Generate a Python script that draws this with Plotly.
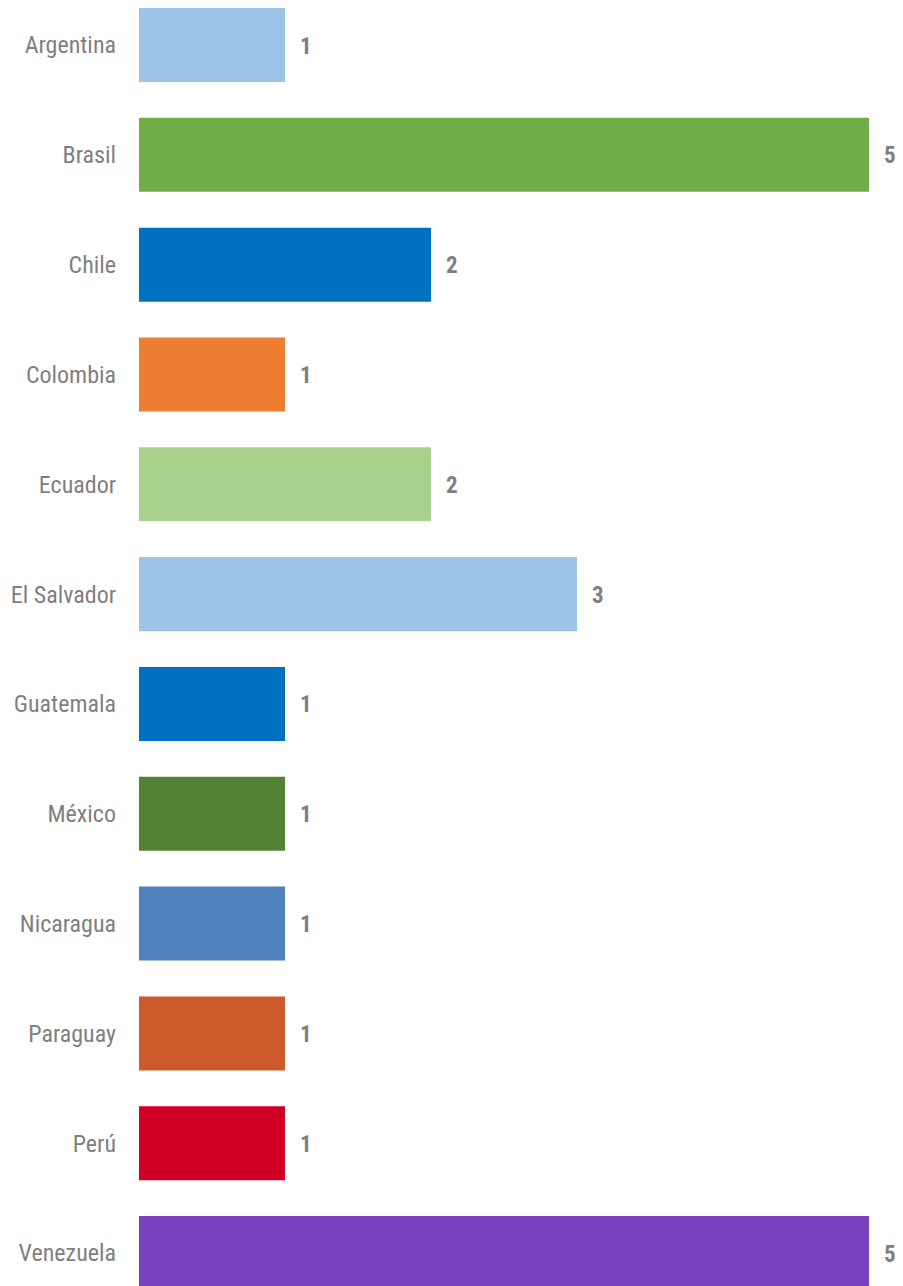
import plotly.graph_objects as go

paises = ['Argentina', 'Brasil', 'Chile', 'Colombia', 'Ecuador', 'El Salvador',
          'Guatemala', 'México', 'Nicaragua', 'Paraguay', 'Perú', 'Venezuela']
valores = [1, 5, 2, 1, 2, 3, 1, 1, 1, 1, 1, 5]
colores = ['#9DC3E6', '#70AD47', '#0070C0', '#ED7D31', '#A9D18E', '#9DC3E6',
           '#0070C0', '#548235', '#4F81BD', '#CC5A2B', '#D00024', '#7A40C0']

fuente = "Roboto Condensed, Liberation Sans Narrow, Roboto, sans-serif"

fig = go.Figure()
fig.add_trace(go.Bar(
    x=valores,
    y=paises,
    orientation='h',
    marker=dict(color=colores, line=dict(width=0)),
    hoverinfo='skip',
))

# etiquetas de valor a la derecha de cada barra
for p, v in zip(paises, valores):
    fig.add_annotation(x=v, y=p, text="<b>%d</b>" % v, showarrow=False,
                       xanchor='left', xshift=13, yshift=-1,
                       font=dict(family=fuente, size=23, color='#7F7F7F'))

# la pagina tiene 8px de margen en el body
fig.update_layout(
    width=895, height=1278,
    margin=dict(l=131, r=34, t=0, b=0),
    paper_bgcolor='white', plot_bgcolor='white',
    bargap=0.326,
    showlegend=False,
    font=dict(family=fuente, size=22, color='#7F7F7F'),
    xaxis=dict(range=[0, 5], visible=False, fixedrange=True),
    yaxis=dict(
        categoryorder='array', categoryarray=paises,
        range=[11.300, -0.337], autorange=False,
        showgrid=False, zeroline=False, showline=False, ticks='',
        ticklabelstandoff=22,
        tickfont=dict(family=fuente, size=24, color='#7F7F7F'),
    ),
)

fig.write_html("out.html")
